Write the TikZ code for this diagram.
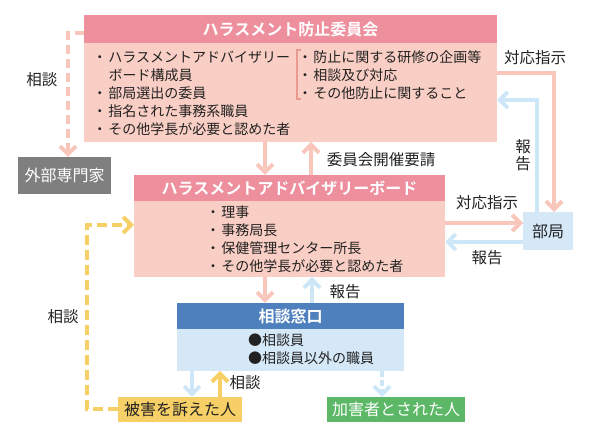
\documentclass[tikz,border=0pt]{standalone}
\usepackage{fontspec}
\setmainfont{Noto Sans CJK JP}[BoldFont={Noto Sans CJK JP Bold}]
\usetikzlibrary{arrows.meta}
\definecolor{tpink}{HTML}{EE8F9D}
\definecolor{bpink}{HTML}{F9CEC4}
\definecolor{apink}{HTML}{F8C6BA}
\definecolor{brkc}{HTML}{E99A8E}
\definecolor{tblue}{HTML}{4F80BE}
\definecolor{bblue}{HTML}{D5E8F8}
\definecolor{ablue}{HTML}{CDE6F8}
\definecolor{yel}{HTML}{F6CF66}
\definecolor{grn}{HTML}{5CB866}
\definecolor{gry}{HTML}{7F7F7F}
\definecolor{ink}{HTML}{222222}
\newcommand{\bul}{\makebox[17pt]{・}}
\begin{document}
\begin{tikzpicture}[x=1pt,y=-1pt,
  every node/.style={inner sep=0pt, outer sep=0pt},
  ttl/.style={fill=tpink, text=white, font=\bfseries\fontsize{16}{19}\selectfont, anchor=north west},
  ttlb/.style={fill=tblue, text=white, font=\bfseries\fontsize{16}{19}\selectfont, anchor=north west},
  bodyp/.style={fill=bpink, anchor=north west},
  bodyb/.style={fill=bblue, anchor=north west},
  txt/.style={anchor=west, text=ink, font=\fontsize{14}{16}\selectfont},
  lbl/.style={text=ink, font=\fontsize{15.5}{17}\selectfont},
  box/.style={anchor=north west, text=ink, font=\fontsize{16}{19}\selectfont},
  tip/.style={-{Straight Barb[length=8pt,width=16pt]}},
  pinkarr/.style={draw=apink, line width=4pt, tip},
  bluearr/.style={draw=ablue, line width=4pt, tip},
  yelarr/.style={draw=yel, line width=4pt, tip},
  pinkdash/.style={pinkarr, dash pattern=on 9pt off 5pt},
  yeldash/.style={yelarr, dash pattern=on 10pt off 5pt},
  bluedash/.style={bluearr, dash pattern=on 6pt off 3pt},
  brk/.style={draw=brkc, line width=1.5pt}
]
\useasboundingbox (0,0) rectangle (595,435);

% committee
\node[bodyp, minimum width=413pt, minimum height=99pt] (ib) at (84,43) {};
\node[ttl, minimum width=413pt, minimum height=28pt] (it) at (84,15) {ハラスメント防止委員会};
\node[txt] (i1) at (91.5,57) {\bul ハラスメントアドバイザリー};
\node[txt] (i2) at (108.5,75) {ボード構成員};
\node[txt] (i3) at (91.5,93) {\bul 部局選出の委員};
\node[txt] (i4) at (91.5,111) {\bul 指名された事務系職員};
\node[txt] (i5) at (91.5,129) {\bul その他学長が必要と認めた者};
\draw[brk] (301,50) -- (297,50) -- (297,99) -- (301,99);
\node[txt] (j1) at (296.5,57) {\bul 防止に関する研修の企画等};
\node[txt] (j2) at (296.5,75) {\bul 相談及び対応};
\node[txt] (j3) at (296.5,93) {\bul その他防止に関すること};

% board
\node[bodyp, minimum width=311pt, minimum height=76pt] (bb) at (134,201) {};
\node[ttl, minimum width=311pt, minimum height=26pt] (bt) at (134,175) {ハラスメントアドバイザリーボード};
\node[txt] (b1) at (204.5,212) {\bul 理事};
\node[txt] (b2) at (204.5,230) {\bul 事務局長};
\node[txt] (b3) at (204.5,248) {\bul 保健管理センター所長};
\node[txt] (b4) at (204.5,266) {\bul その他学長が必要と認めた者};

% counter
\node[bodyb, minimum width=227pt, minimum height=42pt] (sb) at (177,329) {};
\node[ttlb, minimum width=227pt, minimum height=26pt] (st) at (177,303) {相談窓口};
\node[txt] (s1) at (248,340) {●相談員};
\node[txt] (s2) at (248,358) {●相談員以外の職員};

% other boxes
\node[box, fill=gry, text=white, minimum width=93pt, minimum height=37pt] (ext) at (18,157) {外部専門家};
\node[box, fill=bblue, minimum width=50pt, minimum height=38pt] (bk) at (523,212) {部局};
\node[box, fill=yel, minimum width=124pt, minimum height=25pt] (hi) at (118,397) {被害を訴えた人};
\node[box, fill=grn, text=white, minimum width=138pt, minimum height=25pt] (ka) at (327,397) {加害者とされた人};

% connectors
\draw[pinkdash] (it.west |- 0,33) -- (68,33) -- (68,0 |- ext.north);
\node[lbl] (lsd1) at (42,80) {相談};

\draw[pinkarr] (265,0 |- ib.south) -- (265,0 |- bt.north);
\draw[pinkarr] (311,0 |- bt.north) -- (311,0 |- ib.south);
\node[lbl] (lreq) at (381,160) {委員会開催要請};

\draw[pinkarr] (ib.east |- 0,73) -- (554,73) -- (554,0 |- bk.north);
\node[lbl] (lsj1) at (535,58) {対応指示};
\draw[bluearr] (537,0 |- bk.north) -- (537,100) -- (ib.east |- 0,100);
\node[lbl, align=center, font=\fontsize{15.5}{16.5}\selectfont] (lhk1) at (523,155) {報\\告};

\draw[pinkarr] (bb.east |- 0,223) -- (bk.west |- 0,223);
\node[lbl] (lsj2) at (487,203) {対応指示};
\draw[bluearr] (bk.west |- 0,242) -- (bb.east |- 0,242);
\node[lbl] (lhk2) at (487,258) {報告};

\draw[pinkarr] (265,0 |- bb.south) -- (265,0 |- st.north);
\draw[bluearr] (312,0 |- st.north) -- (312,0 |- bb.south);
\node[lbl] (lhk3) at (345,292) {報告};

\draw[bluearr] (192,0 |- sb.south) -- (192,0 |- hi.north);
\draw[yelarr] (220,0 |- hi.north) -- (220,0 |- sb.south);
\node[lbl] (lsd2) at (245,383) {相談};

\draw[bluedash] (382,0 |- sb.south) -- (382,0 |- ka.north);

\draw[yeldash] (hi.west) -- (87,0 |- hi.west) -- (87,225) -- (bb.west |- 0,225);
\node[lbl] (lsd3) at (63,317) {相談};
\end{tikzpicture}
\end{document}
